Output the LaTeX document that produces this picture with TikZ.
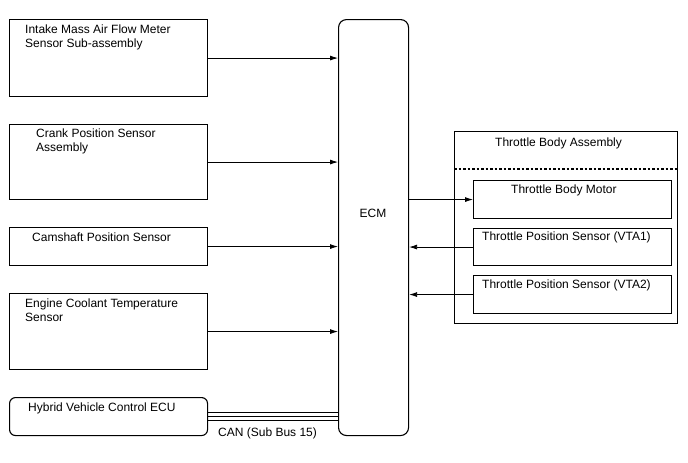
\documentclass[tikz,border=0pt]{standalone}
\usepackage{fontspec}
\setmainfont{Liberation Sans}
\usetikzlibrary{arrows.meta, positioning}

\begin{document}
\begin{tikzpicture}[>={Latex[length=8pt,width=5pt]}, x=1pt, y=-1pt,
    box/.style={draw, line width=1.1pt, anchor=north west, inner sep=0pt, minimum width=198pt},
    txt/.style={anchor=north west, inner sep=0pt, align=left, font=\fontsize{12}{13.5}\selectfont},
    sig/.style={->, line width=0.8pt}]
    \useasboundingbox (0,0) rectangle (688,463);

    % 1. Các cảm biến bên trái
    \node[box, minimum height=77pt] (maf) at (9,19) {};
    \node[txt] (maftxt) at (25,25) {Intake Mass Air Flow Meter\\Sensor Sub-assembly};
    \node[box, minimum height=75pt] (ckp) at (9,124) {};
    \node[txt] (ckptxt) at (36,129) {Crank Position Sensor\\Assembly};
    \node[box, minimum height=38pt] (cmp) at (9,227) {};
    \node[txt] (cmptxt) at (32,233) {Camshaft Position Sensor};
    \node[box, minimum height=76pt] (ect) at (9,293) {};
    \node[txt] (ecttxt) at (25,299) {Engine Coolant Temperature\\Sensor};
    \node[box, minimum height=38pt, rounded corners=6pt] (hv) at (9,397) {};
    \node[txt] (hvtxt) at (28,403) {Hybrid Vehicle Control ECU};

    % 2. ECM
    \node[box, minimum width=70pt, minimum height=416pt, rounded corners=8pt] (ecm) at (338,19) {};
    \node[txt, anchor=center] (ecmtxt) at (373,213) {ECM};

    % 3. Cụm bướm ga
    \node[box, minimum width=223pt, minimum height=192pt] (tba) at (454,131) {};
    \node[txt] (tbatxt) at (495,138) {Throttle Body Assembly};
    \draw[dash pattern=on 2.5pt off 2pt, line width=1.1pt]
        ([yshift=-38pt]tba.north west) -- ([yshift=-38pt]tba.north east);
    \node[box, minimum height=38pt] (mot) at (473,180) {};
    \node[txt] (mottxt) at (511,185) {Throttle Body Motor};
    \node[box, minimum height=37pt] (vta1) at (473,228) {};
    \node[txt] (vta1txt) at (482,232) {Throttle Position Sensor (VTA1)};
    \node[box, minimum height=38pt] (vta2) at (473,275) {};
    \node[txt] (vta2txt) at (482,280) {Throttle Position Sensor (VTA2)};

    % 4. Các mũi tên tín hiệu
    \foreach \s in {maf,ckp,cmp,ect} {
        \draw[sig] (\s.east) -- (\s.east -| ecm.west);
    }
    \draw[sig] (ecm.east |- mot.west) -- (mot.west);
    \foreach \s in {vta1,vta2} {
        \draw[sig] (\s.west) -- (\s.west -| ecm.east);
    }

    % 5. Đường CAN
    \coordinate (canend) at (hv.east -| ecm.west);
    \foreach \d in {-4,0,4} {
        \draw[line width=1.3pt] ([yshift=\d pt]hv.east) -- ([yshift=\d pt]canend);
    }
    \node[txt] (cantxt) at (218,428) {CAN (Sub Bus 15)};
\end{tikzpicture}
\end{document}
